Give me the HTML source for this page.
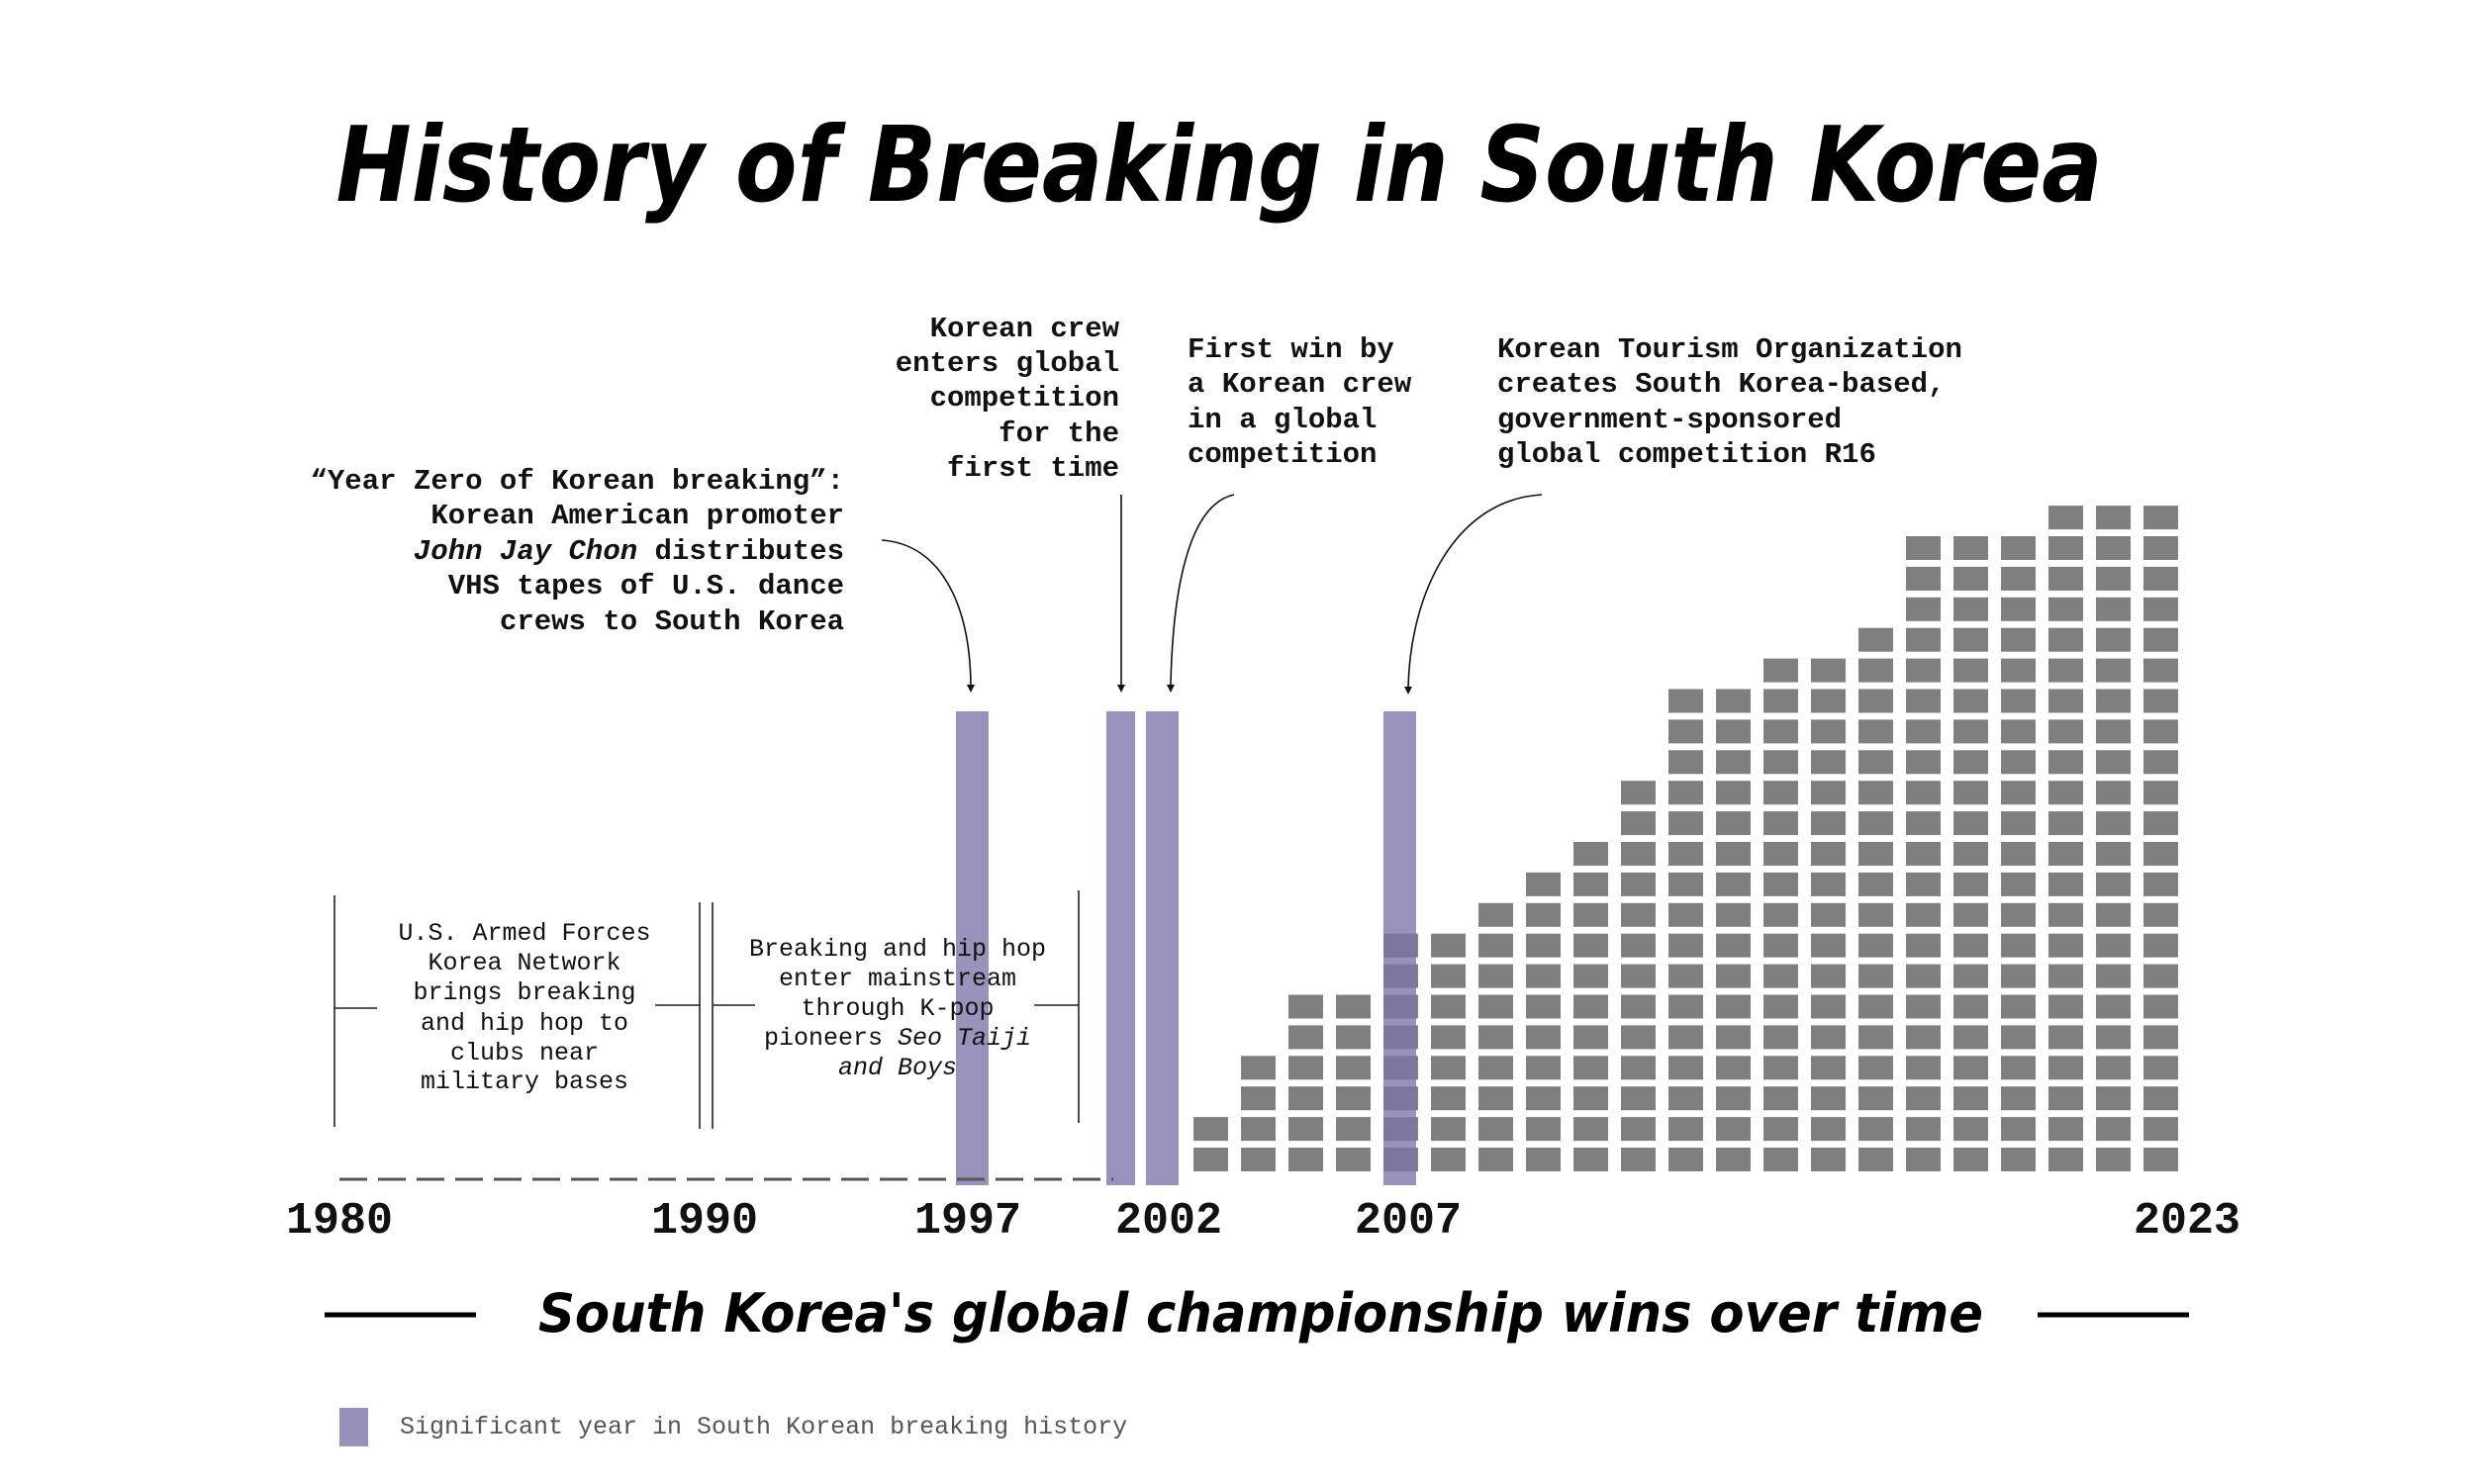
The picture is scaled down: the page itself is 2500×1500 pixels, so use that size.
<!DOCTYPE html>
<html><head><meta charset="utf-8"><style>
html,body{margin:0;padding:0;background:#fff;}
svg{display:block;}
.ann{font-family:"Liberation Mono",monospace;font-weight:bold;font-size:29px;fill:#111;}
.box{font-family:"Liberation Mono",monospace;font-size:25px;fill:#111;}
.yr{font-family:"Liberation Mono",monospace;font-weight:bold;font-size:45px;fill:#111;}
</style></head><body>
<svg id="chart" width="2500" height="1500" viewBox="0 0 2500 1500" xmlns="http://www.w3.org/2000/svg">
<text x="1232" y="203" text-anchor="middle" textLength="1785" lengthAdjust="spacingAndGlyphs" font-family="'DejaVu Sans',sans-serif" font-weight="bold" font-style="italic" font-size="105" fill="#000">History of Breaking in South Korea</text>

<g id="grid"></g>
<g id="bars"></g>

<line x1="343" y1="1192" x2="1125" y2="1192" stroke="#555" stroke-width="3" stroke-dasharray="28,11"/>
<g id="years"></g>

<g class="ann" text-anchor="end">
<text x="853" y="494">“Year Zero of Korean breaking”:</text>
<text x="853" y="529">Korean American promoter</text>
<text x="853" y="565"><tspan font-style="italic">John Jay Chon</tspan> distributes</text>
<text x="853" y="600">VHS tapes of U.S. dance</text>
<text x="853" y="636">crews to South Korea</text>
</g>
<g class="ann" text-anchor="end">
<text x="1131" y="340">Korean crew</text>
<text x="1131" y="375">enters global</text>
<text x="1131" y="410">competition</text>
<text x="1131" y="446">for the</text>
<text x="1131" y="481">first time</text>
</g>
<g class="ann">
<text x="1200" y="361">First win by</text>
<text x="1200" y="396">a Korean crew</text>
<text x="1200" y="432">in a global</text>
<text x="1200" y="467">competition</text>
</g>
<g class="ann">
<text x="1513" y="361">Korean Tourism Organization</text>
<text x="1513" y="396">creates South Korea-based,</text>
<text x="1513" y="432">government-sponsored</text>
<text x="1513" y="467">global competition R16</text>
</g>
<g fill="none" stroke="#111" stroke-width="1.6">
<path d="M891 546 C950 550 980 610 981 692"/>
<line x1="1133" y1="500" x2="1133" y2="692"/>
<path d="M1247 500 C1200 510 1185 600 1183 692"/>
<path d="M1558 500 C1470 505 1425 600 1423 695"/>
</g>
<g fill="#111">
<path d="M977 692 L985 692 L981 700 Z"/>
<path d="M1129 692 L1137 692 L1133 700 Z"/>
<path d="M1179 692 L1187 692 L1183 700 Z"/>
<path d="M1419 694 L1427 694 L1423 702 Z"/>
</g>

<g stroke="#222" stroke-width="1.6">
<line x1="338" y1="905" x2="338" y2="1139"/><line x1="338" y1="1019" x2="381" y2="1019"/>
<line x1="707" y1="912" x2="707" y2="1141"/><line x1="662" y1="1016" x2="707" y2="1016"/>
<line x1="720" y1="912" x2="720" y2="1141"/><line x1="720" y1="1016" x2="763" y2="1016"/>
<line x1="1090" y1="900" x2="1090" y2="1135"/><line x1="1045" y1="1016" x2="1090" y2="1016"/>
</g>
<g class="box" text-anchor="middle">
<text x="530" y="950">U.S. Armed Forces</text>
<text x="530" y="980">Korea Network</text>
<text x="530" y="1010">brings breaking</text>
<text x="530" y="1041">and hip hop to</text>
<text x="530" y="1071">clubs near</text>
<text x="530" y="1100">military bases</text>
</g>
<g class="box" text-anchor="middle">
<text x="907" y="966">Breaking and hip hop</text>
<text x="907" y="996">enter mainstream</text>
<text x="907" y="1026">through K-pop</text>
<text x="907" y="1056">pioneers <tspan font-style="italic">Seo Taiji</tspan></text>
<text x="907" y="1086" font-style="italic">and Boys</text>
</g>

<line x1="328" y1="1329" x2="481" y2="1329" stroke="#000" stroke-width="5"/>
<line x1="2059" y1="1329" x2="2212" y2="1329" stroke="#000" stroke-width="5"/>
<text x="1274" y="1346" text-anchor="middle" textLength="1460" lengthAdjust="spacingAndGlyphs" font-family="'DejaVu Sans',sans-serif" font-weight="bold" font-style="italic" font-size="54" fill="#000">South Korea's global championship wins over time</text>

<rect x="343" y="1423" width="29" height="39" fill="#9691b8"/>
<text x="404" y="1449" font-family="'Liberation Mono',monospace" font-size="25" fill="#555">Significant year in South Korean breaking history</text>
</svg>
<script>
const gridYears = [2003,2004,2005,2006,2007,2008,2009,2010,2011,2012,2013,2014,2015,2016,2017,2018,2019,2020,2021,2022,2023];
const gridWins = [2,4,6,6,8,8,9,10,11,13,16,16,17,17,18,21,21,21,22,22,22];
const significantYears = [1997,2001,2002,2007];
const axisYears = [1980,1990,1997,2002,2007,2023];
const axisLabelX = [343,712,978,1181,1423,2210];

const NS = 'http://www.w3.org/2000/svg';
function xCol(yr){ return 1206 + (yr - 2003) * 48.0; }
function yRow(i){ return 1160 - i * 30.9; }
function xSig(yr){ return yr >= 2002 ? xCol(yr) : 966 + (yr - 1997) * 38.0; }

const grid = document.getElementById('grid');
gridYears.forEach((yr, k) => {
  for (let i = 0; i < gridWins[k]; i++) {
    const r = document.createElementNS(NS, 'rect');
    r.setAttribute('x', xCol(yr)); r.setAttribute('y', yRow(i));
    r.setAttribute('width', 35); r.setAttribute('height', 24);
    r.setAttribute('fill', '#7f7f7f');
    
    
    grid.appendChild(r);
  }
});
const bars = document.getElementById('bars');
significantYears.forEach(yr => {
  const r = document.createElementNS(NS, 'rect');
  r.setAttribute('x', xSig(yr)); r.setAttribute('y', 719);
  r.setAttribute('width', yr === 2001 ? 29 : 33); r.setAttribute('height', 479);
  r.setAttribute('fill', '#7a74a8'); r.setAttribute('opacity', '0.78');
  
  
  bars.appendChild(r);
});
const years = document.getElementById('years');
axisYears.forEach((yr, k) => {
  const t = document.createElementNS(NS, 'text');
  t.setAttribute('x', axisLabelX[k]); t.setAttribute('y', 1246);
  t.setAttribute('text-anchor', 'middle'); t.setAttribute('class', 'yr');
  t.textContent = yr;
  
  
  years.appendChild(t);
});
</script>
</body></html>
